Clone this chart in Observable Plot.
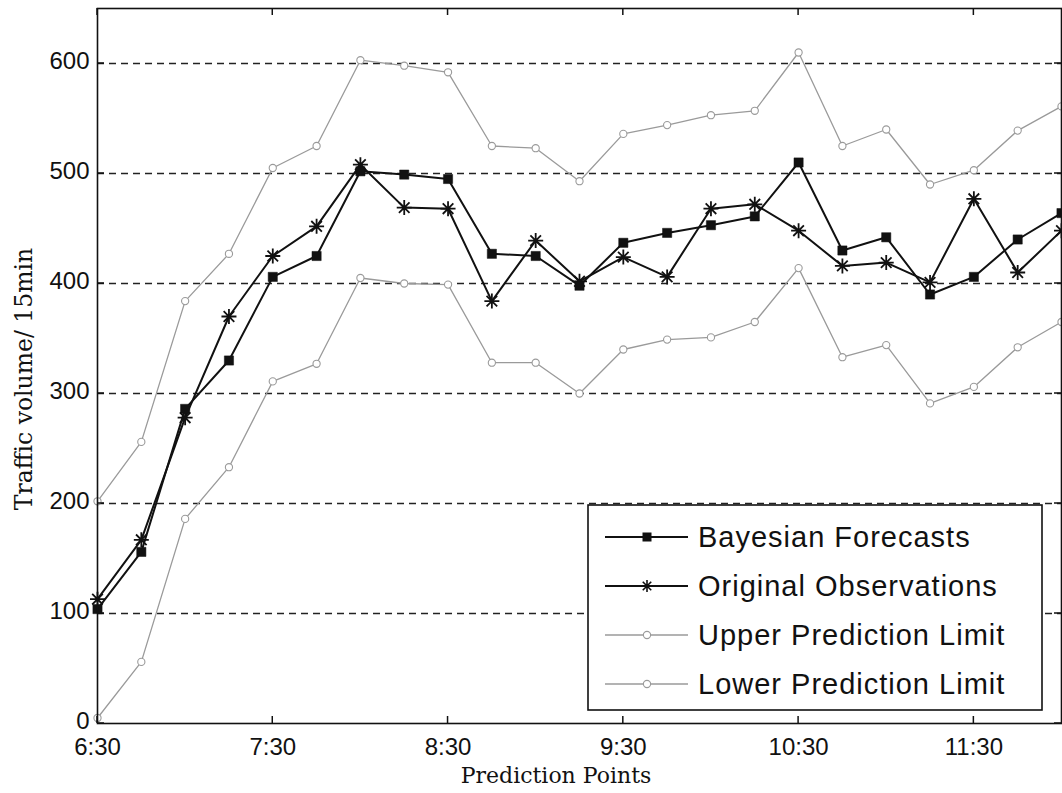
<!DOCTYPE html>
<html>
<head>
<meta charset="utf-8">
<script src="https://cdn.jsdelivr.net/npm/d3@7"></script>
<script src="https://cdn.jsdelivr.net/npm/@observablehq/plot@0.6"></script>
<style>
  html, body { margin: 0; padding: 0; background: #ffffff; }
  #chart svg { display: block; }
</style>
</head>
<body>
<div id="chart"></div>
<script>
// ---- data ----
const times = ["6:30","6:45","7:00","7:15","7:30","7:45","8:00","8:15","8:30","8:45","9:00","9:15",
               "9:30","9:45","10:00","10:15","10:30","10:45","11:00","11:15","11:30","11:45","12:00"];
const bayesian = [104, 156, 286, 330, 406, 425, 502, 499, 495, 427, 425, 398, 437, 446, 453, 461, 510, 430, 442, 390, 406, 440, 464];
const observed = [113, 167, 278, 370, 425, 452, 508, 469, 468, 384, 439, 402, 424, 406, 468, 472, 448, 416, 419, 401, 477, 410, 448];
const upper    = [202, 256, 384, 427, 505, 525, 603, 598, 592, 525, 523, 493, 536, 544, 553, 557, 610, 525, 540, 490, 503, 539, 561];
const lower    = [5, 56, 186, 233, 311, 327, 405, 400, 399, 328, 328, 300, 340, 349, 351, 365, 414, 333, 344, 291, 306, 342, 365];
const xTickLabels = ["6:30","7:30","8:30","9:30","10:30","11:30"];
const yTicks = [0, 100, 200, 300, 400, 500, 600];
const gridValues = [100, 200, 300, 400, 500, 600];
const seriesNames = ["Bayesian Forecasts","Original Observations","Upper Prediction Limit","Lower Prediction Limit"];
const xLabel = "Prediction Points";
const yLabel = "Traffic volume/ 15min";

(function () {
// ---- helpers ----
const toMin = s => { const [h, m] = s.split(":").map(Number); return h * 60 + m; };
const fmt = v => `${Math.floor(v / 60)}:${String(v % 60).padStart(2, "0")}`;
const xTicks = xTickLabels.map(toMin);
const rows = times.map((t, i) => ({t: toMin(t), bayesian: bayesian[i], observed: observed[i], upper: upper[i], lower: lower[i]}));

// MATLAB-style 8-armed asterisk
const asterisk8 = {
  draw(ctx, size) {
    const r = Math.sqrt(size / Math.PI);
    const d = r * Math.SQRT1_2;
    ctx.moveTo(-r, 0); ctx.lineTo(r, 0);
    ctx.moveTo(0, -r); ctx.lineTo(0, r);
    ctx.moveTo(-d, -d); ctx.lineTo(d, d);
    ctx.moveTo(-d, d); ctx.lineTo(d, -d);
  }
};

const limitColor = "#9a9a9a";
const tickFont = {fontFamily: "'Liberation Sans', Arial, sans-serif", fontSize: 24};

const chart = Plot.plot({
  width: 1062,
  height: 793,
  marginLeft: 97,
  marginRight: 1,
  marginTop: 8,
  marginBottom: 70,
  style: {background: "#ffffff", color: "#111", fontFamily: "'Liberation Sans', Arial, sans-serif", fontSize: "24px"},
  x: {type: "linear", domain: [toMin(times[0]), toMin(times[times.length - 1])]},
  y: {domain: [0, 650]},
  marks: [
    Plot.ruleY(gridValues, {stroke: "#222", strokeWidth: 1.3, strokeDasharray: "7,5"}),
    // prediction limits
    Plot.line(rows, {x: "t", y: "upper", stroke: limitColor, strokeWidth: 1.3}),
    Plot.dot(rows, {x: "t", y: "upper", r: 3.6, stroke: limitColor, strokeWidth: 1.1, fill: "#ffffff"}),
    Plot.line(rows, {x: "t", y: "lower", stroke: limitColor, strokeWidth: 1.3}),
    Plot.dot(rows, {x: "t", y: "lower", r: 3.6, stroke: limitColor, strokeWidth: 1.1, fill: "#ffffff"}),
    // observations
    Plot.line(rows, {x: "t", y: "observed", stroke: "#111", strokeWidth: 2}),
    Plot.dot(rows, {x: "t", y: "observed", symbol: asterisk8, r: 7.5, stroke: "#111", strokeWidth: 1.8, fill: "none"}),
    // forecasts
    Plot.line(rows, {x: "t", y: "bayesian", stroke: "#111", strokeWidth: 2}),
    Plot.dot(rows, {x: "t", y: "bayesian", symbol: "square", r: 5.2, fill: "#111", stroke: "#111", strokeWidth: 0.5}),
    // tick labels (inward tick marks drawn below from the same scales)
    Plot.axisX({anchor: "bottom", ticks: xTicks, tickFormat: fmt, tickSize: 0, tickPadding: 14, label: null, ...tickFont}),
    Plot.axisY({anchor: "left", ticks: yTicks, tickSize: 0, tickPadding: 8, dy: -2, label: null, ...tickFont}),
    Plot.frame({stroke: "#111", strokeWidth: 1.6})
  ]
});

document.getElementById("chart").appendChild(chart);

const svg = d3.select(chart);
const xs = chart.scale("x"), ys = chart.scale("y");
const pxLeft = xs.apply(xs.domain[0]), pxRight = xs.apply(xs.domain[1]);
const pxBottom = ys.apply(ys.domain[0]), pxTop = ys.apply(ys.domain[1]);
const tl = 7;
const tg = svg.append("g").attr("stroke", "#111").attr("stroke-width", 1.5);
xTicks.forEach(v => {
  const px = xs.apply(v);
  tg.append("line").attr("x1", px).attr("x2", px).attr("y1", pxBottom).attr("y2", pxBottom - tl);
  tg.append("line").attr("x1", px).attr("x2", px).attr("y1", pxTop).attr("y2", pxTop + tl);
});
yTicks.forEach(v => {
  const py = ys.apply(v);
  tg.append("line").attr("x1", pxLeft).attr("x2", pxLeft + tl).attr("y1", py).attr("y2", py);
  tg.append("line").attr("x1", pxRight).attr("x2", pxRight - tl).attr("y1", py).attr("y2", py);
});

// ---- axis titles ----
svg.append("text")
  .attr("x", 556).attr("y", 783)
  .attr("text-anchor", "middle")
  .attr("font-family", "'DejaVu Serif', 'Liberation Serif', serif")
  .attr("font-size", 22)
  .attr("fill", "#111")
  .text(xLabel);
svg.append("text")
  .attr("transform", "translate(32,379) rotate(-90)")
  .attr("text-anchor", "middle")
  .attr("font-family", "'DejaVu Serif', 'Liberation Serif', serif")
  .attr("font-size", 23.5)
  .attr("fill", "#111")
  .text(yLabel);

// ---- legend ----
const lg = svg.append("g");
lg.append("rect")
  .attr("x", 588).attr("y", 505).attr("width", 454).attr("height", 205)
  .attr("fill", "#ffffff").attr("stroke", "#111").attr("stroke-width", 1.6);
const styles = [
  {stroke: "#111", width: 2, symbol: "square"},
  {stroke: "#111", width: 2, symbol: "asterisk"},
  {stroke: limitColor, width: 1.3, symbol: "circle"},
  {stroke: limitColor, width: 1.3, symbol: "circle"}
];
seriesNames.forEach((name, i) => {
  const cy = 537 + i * 49;
  const s = styles[i];
  lg.append("line").attr("x1", 605).attr("x2", 688).attr("y1", cy).attr("y2", cy)
    .attr("stroke", s.stroke).attr("stroke-width", s.width);
  if (s.symbol === "square") {
    lg.append("rect").attr("x", 647 - 4.5).attr("y", cy - 4.5).attr("width", 9).attr("height", 9).attr("fill", "#111");
  } else if (s.symbol === "asterisk") {
    lg.append("path").attr("transform", `translate(647,${cy})`)
      .attr("d", d3.symbol(asterisk8, Math.PI * 6 * 6)())
      .attr("stroke", "#111").attr("stroke-width", 1.6).attr("fill", "none");
  } else {
    lg.append("circle").attr("cx", 647).attr("cy", cy).attr("r", 3.6)
      .attr("fill", "#fff").attr("stroke", limitColor).attr("stroke-width", 1.1);
  }
  lg.append("text").attr("x", 698).attr("y", cy).attr("dy", "0.35em")
    .attr("text-anchor", "start")
    .attr("font-family", "'Liberation Sans', Arial, sans-serif")
    .attr("font-size", 29).attr("letter-spacing", 1)
    .attr("fill", "#111")
    .text(name);
});
})();
</script>
</body>
</html>
